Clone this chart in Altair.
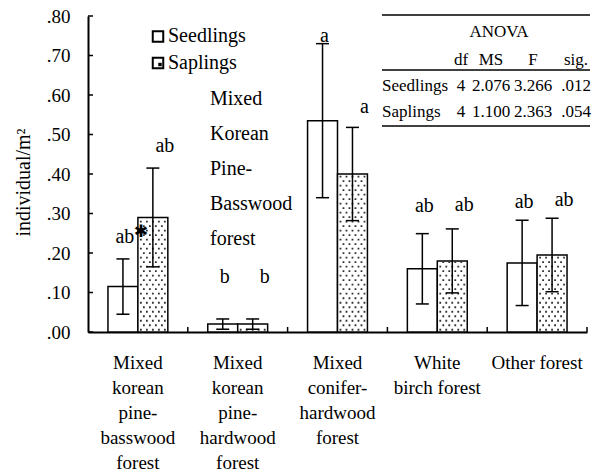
import altair as alt
import pandas as pd

# ---------------- data ----------------
categories = [
    "Mixed\nkorean\npine-\nbasswood\nforest",
    "Mixed\nkorean\npine-\nhardwood\nforest",
    "Mixed\nconifer-\nhardwood\nforest",
    "White\nbirch forest",
    "Other forest",
]
series_names = ["Seedlings", "Saplings"]
seedling_mean = [0.115, 0.020, 0.535, 0.160, 0.175]
seedling_err = [0.070, 0.013, 0.195, 0.089, 0.108]
sapling_mean = [0.290, 0.020, 0.400, 0.180, 0.195]
sapling_err = [0.125, 0.013, 0.118, 0.081, 0.093]
seedling_letters = ["ab", "b", "a", "ab", "ab"]
sapling_letters = ["ab", "b", "a", "ab", "ab"]
seedling_letter_y = [0.240, 0.139, 0.750, 0.319, 0.329]
sapling_letter_y = [0.470, 0.139, 0.570, 0.321, 0.334]
star_y = [0.252]
y_ticks = [0.0, 0.1, 0.2, 0.3, 0.4, 0.5, 0.6, 0.7, 0.8]

annotation_lines = ["Mixed", "Korean", "Pine-", "Basswood", "forest"]
anova_title = "ANOVA"
anova_header = ["df", "MS", "F", "sig."]
anova_rows = ["Seedlings", "Saplings"]
anova_df = ["4", "4"]
anova_ms = ["2.076", "1.100"]
anova_f = ["3.266", "2.363"]
anova_sig = [".012", ".054"]

FONT = "Liberation Serif"
W, H = 499, 316

records = []
for i, cat in enumerate(categories):
    records.append({"cat": cat, "series": "Seedlings", "mean": seedling_mean[i],
                    "err": seedling_err[i], "letter": seedling_letters[i],
                    "ly": seedling_letter_y[i]})
    records.append({"cat": cat, "series": "Saplings", "mean": sapling_mean[i],
                    "err": sapling_err[i], "letter": sapling_letters[i],
                    "ly": sapling_letter_y[i]})
df = pd.DataFrame(records)
base = alt.Chart(df)

# ---------------- scales / axes ----------------
xscale = alt.Scale(domain=categories, paddingInner=0, paddingOuter=0)
xoff_scale = alt.Scale(domain=series_names, paddingInner=0, paddingOuter=0.6667)
yscale = alt.Scale(domain=[0, 0.8], nice=False, zero=True)

xaxis = alt.Axis(title=None, labelExpr="split(datum.label, '\\n')", ticks=False,
                 tickSize=0, domainColor="black", domainWidth=2, labelAngle=0,
                 labelFont=FONT, labelFontSize=19, labelColor="black",
                 labelLineHeight=25, labelPadding=21, labelBaseline="top",
                 labelLimit=0, labelOverlap=False, grid=False)
yaxis = alt.Axis(title="individual/m²", values=y_ticks,
                 labelExpr="slice(format(datum.value, '.2f'), 1)",
                 ticks=False, tickSize=0, domainColor="black", domainWidth=2,
                 grid=False, labelFont=FONT, labelFontSize=19, labelColor="black",
                 labelPadding=18, titleFont=FONT, titleFontSize=20,
                 titleFontWeight="normal", titleColor="black", titleAngle=270,
                 titleX=-65, titleY=166, titleAlign="center",
                 titleBaseline="middle")

X = alt.X("cat:N", scale=xscale, sort=categories, axis=xaxis)
XO = alt.XOffset("series:N", scale=xoff_scale)


def Y(field):
    return alt.Y(field, scale=yscale, axis=yaxis)


# dot pattern paths (unit square = bar width)
def dot_row(offsets_px, half=15.0, r=0.9):
    parts = []
    for o in offsets_px:
        u = o / half
        d = r / half
        parts.append(f"M{u - d:.4f},{-d:.4f}h{2 * d:.4f}v{2 * d:.4f}h{-2 * d:.4f}Z")
    return " ".join(parts)


pathA = dot_row([-12, -6, 0, 6, 12])
pathB = dot_row([-9, -3, 3, 9])

# ---------------- layers ----------------
bars = base.mark_bar(fill="white", stroke="black", strokeWidth=1.5).encode(
    x=X, xOffset=XO, y=Y("mean:Q"))

dots = (base.transform_filter("datum.series == 'Saplings'")
        .transform_calculate(row="sequence(0, floor((datum.mean - 0.0087) / 0.0114) + 1)")
        .transform_flatten(["row"])
        .transform_calculate(dot_y="0.0057 + datum.row * 0.0114",
                             parity="datum.row % 2")
        .mark_point(filled=True, size=900, color="#333333", strokeWidth=0, opacity=1)
        .encode(x=X, xOffset=XO, y=Y("dot_y:Q"),
                shape=alt.Shape("parity:N", scale=alt.Scale(domain=[0, 1], range=[pathA, pathB]),
                                legend=None)))

err_base = base.transform_calculate(lo="datum.mean - datum.err", hi="datum.mean + datum.err")
err_rule = err_base.mark_rule(color="black", strokeWidth=1.5).encode(
    x=X, xOffset=XO, y=Y("lo:Q"), y2="hi:Q")
cap_lo = err_base.mark_tick(orient="horizontal", size=13, thickness=1.5, color="black", opacity=1).encode(
    x=X, xOffset=XO, y=Y("lo:Q"))
cap_hi = err_base.mark_tick(orient="horizontal", size=13, thickness=1.5, color="black", opacity=1).encode(
    x=X, xOffset=XO, y=Y("hi:Q"))

letters_seed = (base.transform_filter("datum.series == 'Seedlings'")
                .mark_text(dx=2, baseline="middle", font=FONT, fontSize=20, color="black")
                .encode(x=X, xOffset=XO, y=Y("ly:Q"), text="letter:N"))
letters_sap = (base.transform_filter("datum.series == 'Saplings'")
               .mark_text(dx=12, baseline="middle", font=FONT, fontSize=20, color="black")
               .encode(x=X, xOffset=XO, y=Y("ly:Q"), text="letter:N"))

star = (alt.Chart(pd.DataFrame({"cat": [categories[0]], "series": ["Saplings"], "sy": star_y}))
        .mark_text(text="✱", font="DejaVu Sans", fontSize=17, color="black",
                   baseline="middle", dx=-12)
        .encode(x=X, xOffset=XO, y=Y("sy:Q")))

bound_ticks = (base.transform_filter("datum.series == 'Seedlings'")
               .mark_rule(color="black", strokeWidth=1.5)
               .encode(x=alt.X("cat:N", bandPosition=1, scale=xscale, sort=categories, axis=xaxis),
                       y=alt.value(H - 5), y2=alt.value(H)))

ytick_marks = (alt.Chart(pd.DataFrame({"v": y_ticks}))
               .mark_rule(color="black", strokeWidth=1.5)
               .encode(y=Y("v:Q"), x=alt.value(0), x2=alt.value(5)))

one = pd.DataFrame({"k": [0]})


def txt(s, x, y, size=17, align="center", **kw):
    return alt.Chart(one).mark_text(text=s, align=align, baseline="middle", font=FONT,
                                    fontSize=size, color="black", **kw).encode(
        x=alt.value(x), y=alt.value(y))


def hline(x1, x2, y, w=1.5):
    return alt.Chart(one).mark_rule(color="black", strokeWidth=w).encode(
        x=alt.value(x1), x2=alt.value(x2), y=alt.value(y))


# legend
leg_layers = [
    alt.Chart(one).mark_square(size=110, fill="white", stroke="black", strokeWidth=2, opacity=1)
    .encode(x=alt.value(70), y=alt.value(20.5)),
    alt.Chart(one).mark_square(size=110, fill="white", stroke="black", strokeWidth=2, opacity=1)
    .encode(x=alt.value(70), y=alt.value(47)),
    alt.Chart(one).mark_square(size=12, fill="black", strokeWidth=0, opacity=1)
    .encode(x=alt.value(72), y=alt.value(48.5)),
    txt(series_names[0], 80, 20, size=20, align="left"),
    txt(series_names[1], 80, 47, size=20, align="left"),
]

annotation = alt.Chart(one).mark_text(text=annotation_lines, align="left", baseline="top",
                                      lineHeight=35, font=FONT, fontSize=20,
                                      color="black").encode(x=alt.value(122), y=alt.value(73))

# ANOVA table
col_x = [373, 403, 445, 488]
table_layers = [
    hline(294, 502, -1),
    txt(anova_title, 411, 16),
    hline(294, 502, 54),
    hline(294, 502, 110),
]
for h, cx in zip(anova_header, col_x):
    table_layers.append(txt(h, cx, 44))
for r, (name, d, ms, f, sg) in enumerate(zip(anova_rows, anova_df, anova_ms, anova_f, anova_sig)):
    yy = 70 + 26 * r
    table_layers.append(txt(name, 294, yy, align="left"))
    for val, cx in zip([d, ms, f, sg], col_x):
        table_layers.append(txt(val, cx, yy))

chart = alt.layer(
    bars, dots, err_rule, cap_lo, cap_hi, letters_seed, letters_sap, star,
    bound_ticks, ytick_marks, annotation, *leg_layers, *table_layers
).properties(
    width=W, height=H,
    padding={"left": 88, "top": 16, "right": 10, "bottom": 143},
    autosize=alt.AutoSizeParams(type="none"),
    background="white",
).configure(font=FONT).configure_view(stroke=None)

chart.save("out.html", embed_options={"renderer": "svg", "actions": False})
